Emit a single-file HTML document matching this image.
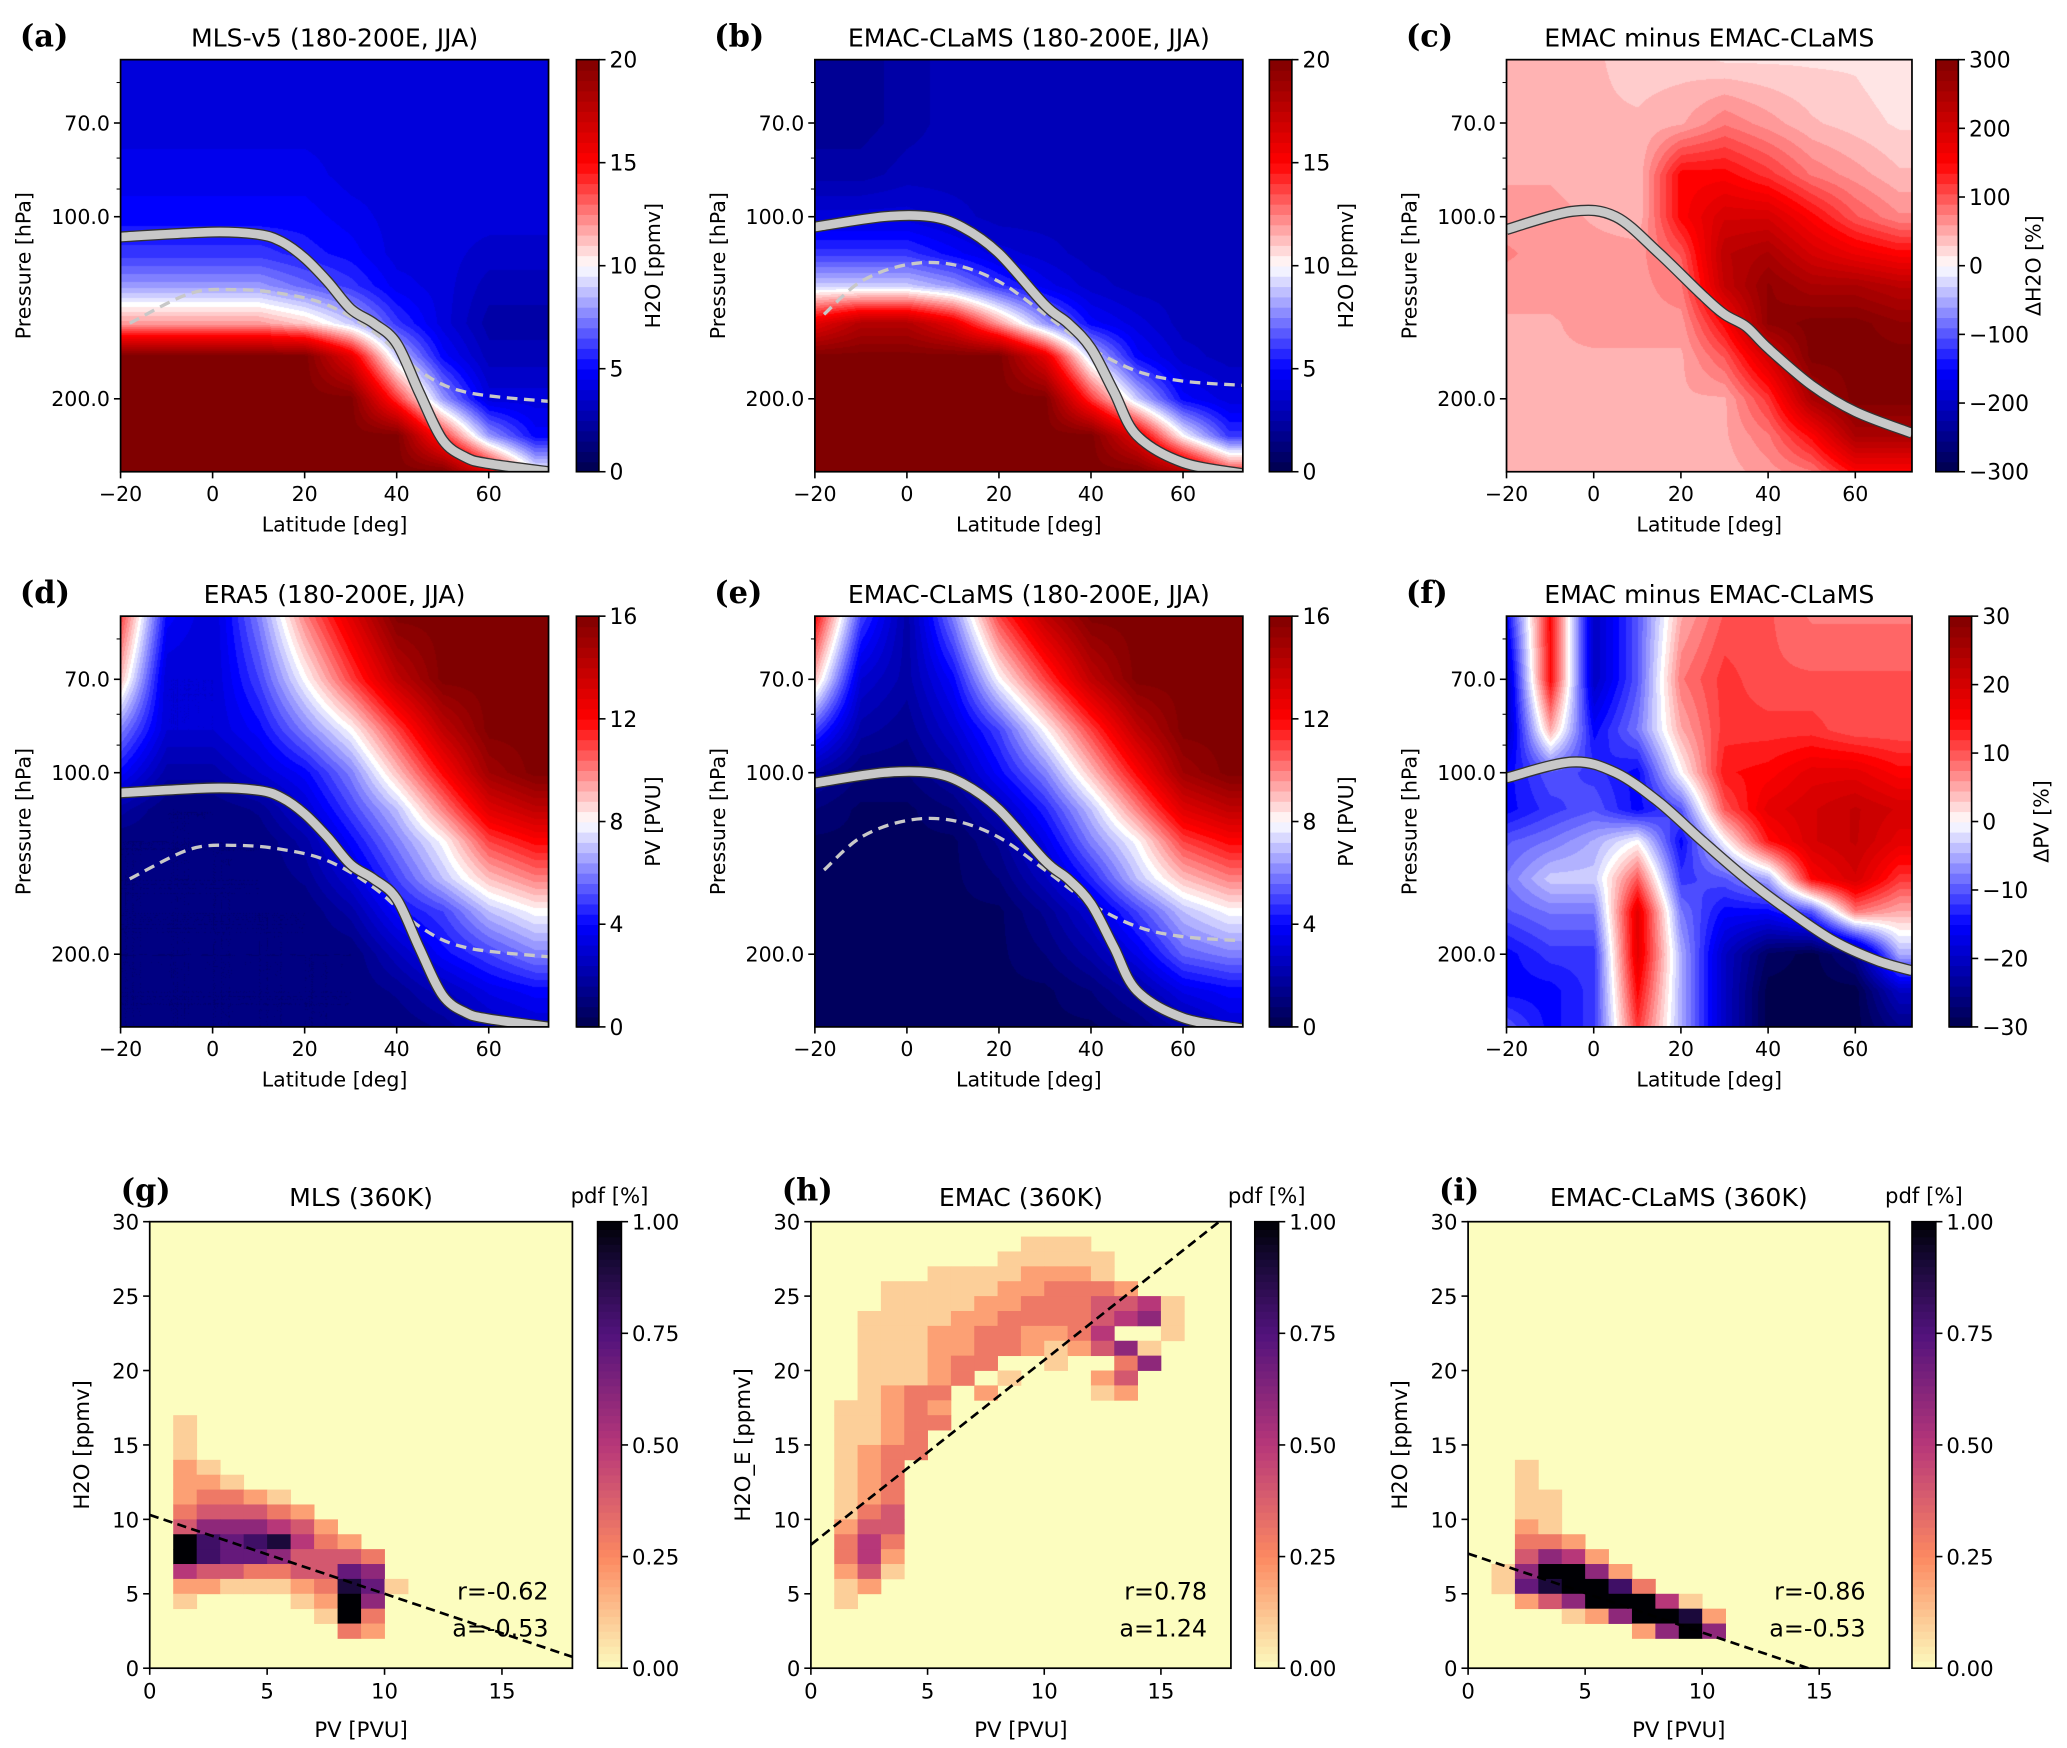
<!DOCTYPE html>
<html><head><meta charset="utf-8">
<style>
html,body{margin:0;padding:0;background:#fff;}
#wrap{position:relative;width:2067px;height:1748px;overflow:hidden;}
canvas{position:absolute;}
svg{position:absolute;left:0;top:0;}
text{font-family:"DejaVu Sans","Liberation Sans",sans-serif;fill:#000;}
.lbl{font-family:"DejaVu Serif","Liberation Serif",serif;font-weight:bold;}
</style></head>
<body>
<div id="wrap">
<svg id="svg" width="2067" height="1748" viewBox="0 0 1560 1319.2"></svg>
</div>
<script>
// ---------- data ----------
const latNodes=[-20,-10,0,10,20,30,40,50,60,70];
const pNodes=[55,70,85,100,115,130,150,170,200,230,264];
const gridA=[
[4,4,4,4,4,4,4,4,4,4],[4,4,4,4,4,4,4,4,4,4],[4.5,4.5,4.5,4.5,4.5,4,4,4,4,4],[5,5,5,5,5,4.5,4,4,4,4],
[6,6,6,6,5.5,5,4,4,3.5,3.5],[8,8,8,8,7,6,4.5,4,3,3],[12,12,12,12,11,9,6,4,2.5,2.5],[20,20,20,20,20,16,9,5,3,3],
[20,20,20,20,20,20,14,8,4,4],[20,20,20,20,20,20,20,14,8,5],[20,20,20,20,20,20,20,20,16,10]];
const gridB=[
[2,2,2.5,3,3,3,3,3,3,3],[2,2,2.5,3,3,3,3,3,3,3],[2.5,2.5,3,3,3,3,3,3,3,3],[4,4,4,3.5,3,3,3,3,3,3],
[6,6,6,5,4,3.5,3,3,3,3],[9,9,9,8,6,4.5,3.5,3,3,3],[16,18,18,16,12,8,5,4,3,3],[20,20,20,20,20,16,9,5,3.5,3],
[20,20,20,20,20,20,14,9,5,4],[20,20,20,20,20,20,20,16,10,6],[20,20,20,20,20,20,20,20,18,14]];
const gridC=[
[40,40,40,30,30,20,20,20,20,10],[50,50,40,40,50,80,60,40,30,20],[50,50,40,40,150,150,120,80,60,40],
[60,60,50,40,150,200,200,150,100,70],[70,60,60,60,100,230,250,200,170,150],[60,60,60,60,80,220,280,250,250,230],
[50,50,60,60,60,150,280,300,300,280],[50,50,50,50,50,100,200,300,300,300],[50,50,50,50,50,50,120,250,300,300],
[50,50,50,50,50,50,80,150,250,250],[45,45,45,45,45,45,60,80,150,150]];
const gridD=[
[11,4,3,6,10,13,16,16,16,16],[9,3,3,5,8,11,14,16,16,16],[6,3,3,4,6,8,11,14,16,16],[4,2,2,3,4,6,9,12,15,16],
[2,1,1,1.5,3,5,7,10,13,14],[1,1,1,1,2,4,6,8,11,12],[1,1,1,1,1.5,3,5,7,9,10],[1,1,1,1,1,2,4,5,7,8],
[1,1,1,1,1,1,2.5,4,5,6],[1,1,1,1,1,1,1.5,2.5,3.5,4],[1,1,1,1,1,1,1,1.5,2.5,3]];
const gridE=[
[12,5,2,6,11,14,16,16,16,16],[9,3,2,4,8,11,14,16,16,16],[5,2,1.5,3,5,8,11,14,16,16],[2,1,1,2,4,6,9,12,15,16],
[1,0.5,0.5,1,2.5,4.5,7,10,13,14],[0.5,0.5,0.5,0.5,1.5,3.5,6,8,11,12],[0.5,0.5,0.5,0.5,1,2.5,4.5,7,9,10],
[0.5,0.5,0.5,0.5,0.5,1.5,3,5,7,8],[0.5,0.5,0.5,0.5,0.5,1,2,3.5,5.5,6],[0.5,0.5,0.5,0.5,0.5,0.5,1,2,3.5,4],
[0.5,0.5,0.5,0.5,0.5,0.5,0.5,1,2,3]];
const gridF=[
[-15,15,-20,-10,5,10,10,8,8,8],[-20,15,-20,-10,8,12,10,10,10,10],[-20,5,-15,-8,5,12,12,12,10,10],
[-15,-10,-12,-15,0,14,15,18,18,15],[-15,-12,-10,-15,-10,10,18,20,22,20],[-10,-8,-5,0,-15,0,14,20,22,18],
[-8,-3,-3,10,-12,-10,-5,15,20,12],[-10,-8,-8,18,-8,-15,-15,-10,8,5],[-15,-12,-12,18,-5,-20,-28,-30,-25,-5],
[-15,-15,-12,15,-5,-20,-30,-30,-30,-20],[-10,-15,-12,12,-5,-20,-30,-30,-30,-25]];
// tropopause (thick grey) lat / p
const tropLatA=[-20,0,10,15,20,25,30,35,40,45,50,55,60,73];
const tropPA=[108,106,107,110,117,128,142,150,162,196,234,250,256,264];
const tropLatB=[-20,-5,5,12,20,30,35,40,45,50,60,73];
const tropPB=[104,100,100,104,115,140,150,165,195,230,255,266];
const tropLatC=[-20,-5,5,15,25,30,35,40,50,60,73];
const tropPC=[105,98,100,115,135,145,152,165,190,210,228];
const tropLatF=[-20,-5,5,15,25,35,45,55,65,73];
const tropPF=[102,96,100,112,130,150,170,190,205,213];
// 360 K dashed
const th360LatA=[-18,-5,5,15,25,35,45,55,73];
const th360PA=[150,134,132,134,140,155,180,195,202];
const th360LatB=[-18,-10,0,10,20,30,40,50,60,73];
const th360PB=[145,128,120,120,128,145,165,180,187,190];
// scatter pdf grids (chars: '.'=0, '1'..'9'=0.1..0.9, 'X'=1), columns PV 0..18 step 1, rows from top value downward
const gTop=17, gRows=[
".1................",".1................",".1................",".21...............",".221..............",
".23321............",".344432...........",".4666542..........",".X8789532.........",".X87764443........",
".544334476........",".2211123971.......",".1....12X6........",".......1X3........","........32........"];
const hTop=29, hRows=[
".........111......","........11111.....",".....11112221.....","...11111223332....","...1111223334451...",
"..11112233334561..","..11122332235..1..","..1112233212461...","..111233..1..36...","..11123.1...24....",
"..1233.2....12....",".11232............",".11233............",".1123.............",".1233.............",
".123..............",".123..............",".123..............",".134..............",".244..............",
".353..............",".352..............",".241..............",".12...............",".1................"];
const iTop=14, iRows=[
"..1...............","..1...............","..11..............","..11..............","..21..............",
"..332.............","..4652............",".16XX62...........",".179XX83..........","..246XXX51........",
"....126XX92.......",".......26X6......."];
// ---------- helpers ----------
const SVGNS="http://www.w3.org/2000/svg";
const svg=document.getElementById('svg');
const S=2067/1560;
function el(tag,attrs,parent){const e=document.createElementNS(SVGNS,tag);for(const k in attrs)e.setAttribute(k,attrs[k]);(parent||svg).appendChild(e);return e;}
function txt(x,y,s,size,anchor,parent,extra){const t=el('text',Object.assign({x:x,y:y,'font-size':size,'text-anchor':anchor||'middle'},extra||{}),parent);t.textContent=s;return t;}
function seismic(t){t=Math.max(0,Math.min(1,t));let r,g,b;
 if(t<0.25){const s=t/0.25;r=0;g=0;b=0.3+0.7*s;}
 else if(t<0.5){const s=(t-0.25)/0.25;r=s;g=s;b=1;}
 else if(t<0.75){const s=(t-0.5)/0.25;r=1;g=1-s;b=1-s;}
 else{const s=(t-0.75)/0.25;r=1-0.5*s;g=0;b=0;}
 return [r*255,g*255,b*255];}
const magStops=[[0,[252,253,191]],[0.25,[252,137,97]],[0.5,[183,55,121]],[0.75,[81,18,124]],[0.92,[20,8,50]],[1,[0,0,4]]];
function magma(t){t=Math.max(0,Math.min(1,t));for(let i=1;i<magStops.length;i++){if(t<=magStops[i][0]){const a=magStops[i-1],b=magStops[i];const s=(t-a[0])/(b[0]-a[0]);return a[1].map((v,k)=>v+(b[1][k]-v)*s);}}return magStops[magStops.length-1][1];}
function rgb(c){return 'rgb('+c.map(v=>Math.round(v)).join(',')+')';}
function bilin(grid,lat,p){
 let i=0;while(i<latNodes.length-2&&lat>latNodes[i+1])i++;
 let j=0;while(j<pNodes.length-2&&p>pNodes[j+1])j++;
 let u=(lat-latNodes[i])/(latNodes[i+1]-latNodes[i]);u=Math.max(0,Math.min(1,u));
 let v=(Math.log(p)-Math.log(pNodes[j]))/(Math.log(pNodes[j+1])-Math.log(pNodes[j]));v=Math.max(0,Math.min(1,v));
 return grid[j][i]*(1-u)*(1-v)+grid[j][i+1]*u*(1-v)+grid[j+1][i]*(1-u)*v+grid[j+1][i+1]*u*v;}
function smoothPath(pts){ // Catmull-Rom -> cubic bezier
 let d='M'+pts[0][0].toFixed(1)+','+pts[0][1].toFixed(1);
 for(let i=0;i<pts.length-1;i++){const p0=pts[Math.max(0,i-1)],p1=pts[i],p2=pts[i+1],p3=pts[Math.min(pts.length-1,i+2)];
  const c1=[p1[0]+(p2[0]-p0[0])/6,p1[1]+(p2[1]-p0[1])/6],c2=[p2[0]-(p3[0]-p1[0])/6,p2[1]-(p3[1]-p1[1])/6];
  d+='C'+c1[0].toFixed(1)+','+c1[1].toFixed(1)+' '+c2[0].toFixed(1)+','+c2[1].toFixed(1)+' '+p2[0].toFixed(1)+','+p2[1].toFixed(1);}
 return d;}
// ---------- contour panels ----------
const P0=55,P1=264,LAT0=-20,LAT1=73;
function makeContourPanel(cfg){
 const g=el('g',{});
 
 
 const {x0,x1,y0,y1}=cfg;
 const xs=lat=>x0+(lat-LAT0)/(LAT1-LAT0)*(x1-x0);
 const ys=p=>y0+(Math.log(p)-Math.log(P0))/(Math.log(P1)-Math.log(P0))*(y1-y0);
 const cv=document.createElement('canvas');
 const W=Math.round((x1-x0)*S),H=Math.round((y1-y0)*S);
 cv.width=W;cv.height=H;cv.style.left=(x0*S)+'px';cv.style.top=(y0*S)+'px';
 
 
 document.getElementById('wrap').insertBefore(cv,svg);
 const ctx=cv.getContext('2d');const img=ctx.createImageData(W,H);
 const nlev=40;
 for(let py=0;py<H;py++){const p=Math.exp(Math.log(P0)+(py+0.5)/H*(Math.log(P1)-Math.log(P0)));
  for(let px=0;px<W;px++){const lat=LAT0+(px+0.5)/W*(LAT1-LAT0);
   let t=(bilin(cfg.grid,lat,p)-cfg.vmin)/(cfg.vmax-cfg.vmin);
   t=Math.floor(Math.max(0,Math.min(0.9999,t))*nlev+0.5)/nlev;
   const c=seismic(t);const k=(py*W+px)*4;img.data[k]=c[0];img.data[k+1]=c[1];img.data[k+2]=c[2];img.data[k+3]=255;}}
 ctx.putImageData(img,0,0);
 const cid='clip-'+cfg.name;const cp=el('clipPath',{id:cid},g);el('rect',{x:x0,y:y0,width:x1-x0,height:y1-y0},cp);
 const lg=el('g',{'clip-path':'url(#'+cid+')'},g);
 if(cfg.th360Lat){
  const d=smoothPath(cfg.th360Lat.map((l,i)=>[xs(l),ys(cfg.th360P[i])]));
  const ln=el('path',{d:d,fill:'none',stroke:'#c8c8c8','stroke-width':2.5,'stroke-dasharray':'8,5'},lg);
  
  
 }
 const d=smoothPath(cfg.tropLat.map((l,i)=>[xs(l),ys(cfg.tropP[i])]));
 el('path',{d:d,fill:'none',stroke:'#333','stroke-width':8.5,'stroke-linejoin':'round'},lg);
 const tl=el('path',{d:d,fill:'none',stroke:'#c8c8c8','stroke-width':6.5,'stroke-linejoin':'round'},lg);
 
 
 el('rect',{x:x0,y:y0,width:x1-x0,height:y1-y0,fill:'none',stroke:'#000','stroke-width':1.3},g);
 [-20,0,20,40,60].forEach(v=>{const x=xs(v);el('line',{x1:x,x2:x,y1:y1,y2:y1+5,stroke:'#000','stroke-width':1.2},g);
  const t=txt(x,y1+22,v<0?'\u2212'+(-v):String(v),15.5,'middle',g);});
 const xl=txt((x0+x1)/2,y1+45,'Latitude [deg]',15.5,'middle',g);
 
 [[70,'70.0'],[100,'100.0'],[200,'200.0']].forEach(a=>{const y=ys(a[0]);el('line',{x1:x0-5,x2:x0,y1:y,y2:y,stroke:'#000','stroke-width':1.2},g);
  const t=txt(x0-8,y+5.5,a[1],15.5,'end',g);});
 [60,80,90].forEach(v=>{const y=ys(v);el('line',{x1:x0-3,x2:x0,y1:y,y2:y,stroke:'#000','stroke-width':0.8},g);});
 const yl=txt(0,0,'Pressure [hPa]',15.5,'middle',g,{transform:'translate('+(x0-68)+','+((y0+y1)/2)+') rotate(-90)'});
 
 const tt=txt((x0+x1)/2,y0-10,cfg.title,19,'middle',g);
 
 const pl=txt(x0-76,y0-10,cfg.label,23,'start',g,{class:'lbl'});
 
 const cx=cfg.cbx,cw=17;const cb=el('g',{},g);
 
 const nb=40;for(let k=0;k<nb;k++){const yy=y1-(k+1)/nb*(y1-y0);el('rect',{x:cx,y:yy,width:cw,height:(y1-y0)/nb+0.6,fill:rgb(seismic((k+0.5)/nb)),stroke:'none'},cb);}
 el('rect',{x:cx,y:y0,width:cw,height:y1-y0,fill:'none',stroke:'#000','stroke-width':1.2},cb);
 cfg.cbTicks.forEach(v=>{const y=y1-(v-cfg.vmin)/(cfg.vmax-cfg.vmin)*(y1-y0);el('line',{x1:cx+cw,x2:cx+cw+5,y1:y,y2:y,stroke:'#000','stroke-width':1.2},cb);
  const t=txt(cx+cw+8,y+6,v<0?'\u2212'+(-v):String(v),16.5,'start',cb);});
 const cl=txt(0,0,cfg.cbLabel,15.5,'middle',cb,{transform:'translate('+(cx+cw+cfg.cbLabelOff)+','+((y0+y1)/2)+') rotate(-90)'});
 
}
makeContourPanel({name:'panel-a',label:'(a)',title:'MLS-v5 (180-200E, JJA)',x0:91,x1:414,y0:45,y1:356,grid:gridA,vmin:0,vmax:20,tropLat:tropLatA,tropP:tropPA,th360Lat:th360LatA,th360P:th360PA,cbx:435,cbTicks:[0,5,10,15,20],cbLabel:'H2O [ppmv]',cbLabelOff:46});
makeContourPanel({name:'panel-b',label:'(b)',title:'EMAC-CLaMS (180-200E, JJA)',x0:615,x1:938,y0:45,y1:356,grid:gridB,vmin:0,vmax:20,tropLat:tropLatB,tropP:tropPB,th360Lat:th360LatB,th360P:th360PB,cbx:958,cbTicks:[0,5,10,15,20],cbLabel:'H2O [ppmv]',cbLabelOff:46});
makeContourPanel({name:'panel-c',label:'(c)',title:'EMAC minus EMAC-CLaMS',x0:1137,x1:1443,y0:45,y1:356,grid:gridC,vmin:-300,vmax:300,tropLat:tropLatC,tropP:tropPC,cbx:1461,cbTicks:[-300,-200,-100,0,100,200,300],cbLabel:'\u0394H2O [%]',cbLabelOff:62});
makeContourPanel({name:'panel-d',label:'(d)',title:'ERA5 (180-200E, JJA)',x0:91,x1:414,y0:465,y1:775,grid:gridD,vmin:0,vmax:16,tropLat:tropLatA,tropP:tropPA,th360Lat:th360LatA,th360P:th360PA,cbx:435,cbTicks:[0,4,8,12,16],cbLabel:'PV [PVU]',cbLabelOff:46});
makeContourPanel({name:'panel-e',label:'(e)',title:'EMAC-CLaMS (180-200E, JJA)',x0:615,x1:938,y0:465,y1:775,grid:gridE,vmin:0,vmax:16,tropLat:tropLatB,tropP:tropPB,th360Lat:th360LatB,th360P:th360PB,cbx:958,cbTicks:[0,4,8,12,16],cbLabel:'PV [PVU]',cbLabelOff:46});
makeContourPanel({name:'panel-f',label:'(f)',title:'EMAC minus EMAC-CLaMS',x0:1137,x1:1443,y0:465,y1:775,grid:gridF,vmin:-30,vmax:30,tropLat:tropLatF,tropP:tropPF,cbx:1471,cbTicks:[-30,-20,-10,0,10,20,30],cbLabel:'\u0394PV [%]',cbLabelOff:58});
// ---------- scatter pdf panels ----------
function lev(ch){return ch==='.'?0:(ch==='X'?1:parseInt(ch,10)/10);}
function makePdfPanel(cfg){
 const g=el('g',{});
 
 
 const {x0,x1,y0,y1}=cfg;
 const xs=v=>x0+v/18*(x1-x0), ys=v=>y1-v/30*(y1-y0);
 el('rect',{x:x0,y:y0,width:x1-x0,height:y1-y0,fill:rgb(magma(0))},g);
 const cells=el('g',{},g);
 cfg.rows.forEach((row,r)=>{const hi=cfg.top-r;
  for(let c=0;c<row.length;c++){const v=lev(row[c]);if(v<=0)continue;
   const rc=el('rect',{x:xs(c),y:ys(hi),width:xs(c+1)-xs(c)+0.3,height:ys(hi-1)-ys(hi)+0.3,fill:rgb(magma(v))},cells);
   }});
 const cid='clip-'+cfg.name;const cp=el('clipPath',{id:cid},g);el('rect',{x:x0,y:y0,width:x1-x0,height:y1-y0},cp);
 const fx0=0,fx1=18;
 const fl=el('line',{x1:xs(fx0),y1:ys(cfg.b+cfg.a*fx0),x2:xs(fx1),y2:ys(cfg.b+cfg.a*fx1),stroke:'#000','stroke-width':2,'stroke-dasharray':'7,4','clip-path':'url(#'+cid+')'},g);
 
 el('rect',{x:x0,y:y0,width:x1-x0,height:y1-y0,fill:'none',stroke:'#000','stroke-width':1.3},g);
 [0,5,10,15].forEach(v=>{const x=xs(v);el('line',{x1:x,x2:x,y1:y1,y2:y1+5,stroke:'#000','stroke-width':1.2},g);
  const t=txt(x,y1+23,String(v),16,'middle',g);});
 [0,5,10,15,20,25,30].forEach(v=>{const y=ys(v);el('line',{x1:x0-5,x2:x0,y1:y,y2:y,stroke:'#000','stroke-width':1.2},g);
  const t=txt(x0-8,y+6,String(v),16,'end',g);});
 const xl=txt((x0+x1)/2,y1+52,'PV [PVU]',16,'middle',g);
 const yl=txt(0,0,cfg.ylab,16,'middle',g,{transform:'translate('+(x0-46)+','+((y0+y1)/2)+') rotate(-90)'});
 
 const tt=txt((x0+x1)/2,y0-12,cfg.title,19,'middle',g);
 const pl=txt(x0-22,y0-16,cfg.label,23,'start',g,{class:'lbl'});
 const r1=txt(x1-18,y1-52,cfg.rtxt,18,'end',g);
 const r2=txt(x1-18,y1-24,cfg.atxt,18,'end',g);
 const cx=cfg.cbx,cw=18;const cb=el('g',{},g);
 const nb=60;for(let k=0;k<nb;k++){const yy=y1-(k+1)/nb*(y1-y0);el('rect',{x:cx,y:yy,width:cw,height:(y1-y0)/nb+0.6,fill:rgb(magma((k+0.5)/nb))},cb);}
 el('rect',{x:cx,y:y0,width:cw,height:y1-y0,fill:'none',stroke:'#000','stroke-width':1.2},cb);
 ['0.00','0.25','0.50','0.75','1.00'].forEach((s,k)=>{const y=y1-k/4*(y1-y0);el('line',{x1:cx+cw,x2:cx+cw+5,y1:y,y2:y,stroke:'#000','stroke-width':1.2},cb);
  const t=txt(cx+cw+8,y+6,s,16,'start',cb);});
 const ct=txt(cx+cw/2,y0-14,'pdf [%]',16,'middle',cb);
}
makePdfPanel({name:'panel-g',label:'(g)',title:'MLS (360K)',x0:113,x1:432,y0:922,y1:1259,rows:gRows,top:gTop,a:-0.53,b:10.3,rtxt:'r=-0.62',atxt:'a=-0.53',ylab:'H2O [ppmv]',cbx:451});
makePdfPanel({name:'panel-h',label:'(h)',title:'EMAC (360K)',x0:612,x1:929,y0:922,y1:1259,rows:hRows,top:hTop,a:1.24,b:8.3,rtxt:'r=0.78',atxt:'a=1.24',ylab:'H2O_E [ppmv]',cbx:947});
makePdfPanel({name:'panel-i',label:'(i)',title:'EMAC-CLaMS (360K)',x0:1108,x1:1426,y0:922,y1:1259,rows:iRows,top:iTop,a:-0.53,b:7.7,rtxt:'r=-0.86',atxt:'a=-0.53',ylab:'H2O [ppmv]',cbx:1443});
</script>
</body></html>
